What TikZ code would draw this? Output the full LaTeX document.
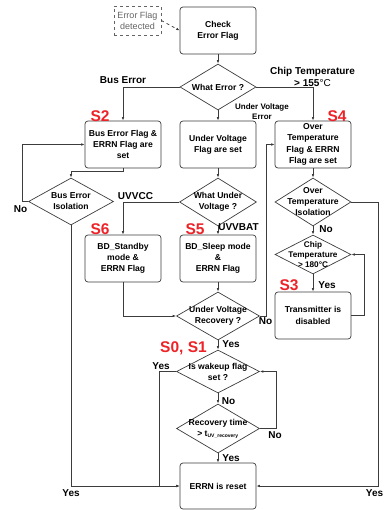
\documentclass[tikz,border=0pt]{standalone}
\usepackage{fontspec}
\setmainfont{Liberation Sans}
\usetikzlibrary{shapes.geometric,arrows.meta}
\definecolor{lc}{RGB}{60,60,60}
\definecolor{sred}{RGB}{237,35,40}
\definecolor{dgray}{RGB}{100,100,100}
\begin{document}
\begin{tikzpicture}[x=1pt,y=-1pt,
  every node/.style={inner sep=1pt},
  bx/.style={draw=lc,line width=0.7pt,rounded corners=3pt,minimum width=76pt,minimum height=47pt,align=center,font=\fontsize{8.6}{11.2}\selectfont\bfseries},
  dbx/.style={draw=dgray,line width=0.7pt,dashed,minimum width=47pt,minimum height=29pt,align=center,text=dgray,font=\fontsize{9}{11}\selectfont},
  dia/.style={diamond,draw=lc,line width=0.7pt,inner sep=0pt},
  dtx/.style={align=center,font=\fontsize{8.6}{11}\selectfont\bfseries},
  lab/.style={font=\fontsize{10}{12}\selectfont\bfseries,align=center},
  slab/.style={font=\fontsize{8}{10}\selectfont\bfseries,align=center},
  sred/.style={text=sred,font=\fontsize{15.5}{16}\selectfont\bfseries},
  arr/.style={draw=lc,line width=0.7pt,-{Latex[length=3.5pt,width=2.6pt]}},
  ln/.style={draw=lc,line width=0.7pt}]
\useasboundingbox (0,0) rectangle (385,510);

% boxes
\node[dbx] (ef) at (137.5,20.5) {Error Flag\\detected};
\node[bx] (ck) at (218,30.5) {Check\\Error Flag};
\node[dia,minimum width=76pt,minimum height=46pt,label={[dtx]center:What Error ?}] (d1) at (218,87) {};
\node[bx] (b1) at (123,144.5) {Bus Error Flag \&\\ERRN Flag are\\set};
\node[bx] (uv) at (218,144.5) {Under Voltage\\Flag are set};
\node[bx] (ot) at (313,144.5) {Over\\Temperature\\Flag \& ERRN\\Flag are set};
\node[dia,minimum width=85pt,minimum height=47pt,label={[dtx]center:Bus Error\\Isolation}] (bi) at (71,201.5) {};
\node[dia,minimum width=77pt,minimum height=48pt,label={[dtx]center:What Under\\Voltage ?}] (wuv) at (218,202) {};
\node[dia,minimum width=76pt,minimum height=48pt,label={[dtx]center:Over\\Temperature\\Isolation}] (oti) at (313,202) {};
\node[bx] (bds) at (123,258.5) {BD\_Standby\\mode \&\\ERRN Flag};
\node[bx] (bsl) at (218,258.5) {BD\_Sleep mode\\\&\\ERRN Flag};
\node[dia,minimum width=76pt,minimum height=39pt,label={[dtx,font=\fontsize{8.2}{10}\selectfont\bfseries]center:Chip\\Temperature\\> 180°C}] (ct) at (313,254.5) {};
\node[bx] (tx) at (313,315.5) {Transmitter is\\disabled};
\node[dia,minimum width=83pt,minimum height=48pt,label={[dtx]center:Under Voltage\\Recovery ?}] (uvr) at (218,316) {};
\node[dia,minimum width=83pt,minimum height=43pt,label={[dtx]center:Is wakeup flag\\set ?}] (wk) at (218,371.5) {};
\node[dia,minimum width=83pt,minimum height=49pt,label={[dtx]center:Recovery time\\> t\textsubscript{\fontsize{5}{5}\selectfont UV\_recovery}}] (rt) at (218,428.5) {};
\node[bx,minimum height=46pt] (er) at (218,486) {ERRN is reset};

% connectors
\draw[ln,dashed,-{Latex[length=3.5pt,width=2.6pt]}] (ef.east) -- (ck.west);
\draw[arr] (ck.south) -- (d1.north);
\draw[arr] (d1.west) -| (b1.north);
\draw[arr] (d1.east) -| (ot.north);
\draw[arr] (d1.south) -- (uv.north);
\draw[arr] (b1.south) -- ++(0,3) -| (bi.north);
\draw[arr] (bi.west) -- ++(-6,0) |- (b1.west);
\draw[arr] (bi.south) |- (er.west);
\draw[arr] (uv.south) -- (wuv.north);
\draw[arr] (wuv.west) -| (bds.north);
\draw[arr] (wuv.south) -- (bsl.north);
\draw[arr] (ot.south) -- (oti.north);
\draw[arr] (oti.south) -- (ct.north);
\draw[arr] (oti.east) -- ++(27,0) |- (er.east);
\draw[arr] (ct.south) -- (tx.north);
\draw[arr] (tx.east) -- ++(13,0) |- (ct.east);
\draw[arr] (bds.south) |- (uvr.west);
\draw[arr] (bsl.south) -- (uvr.north);
\draw[arr] (uvr.east) -- ++(6,0) |- (ot.west);
\draw[arr] (uvr.south) -- (wk.north);
\draw[arr] (wk.west) -- ++(-16.5,0) |- (er.west);
\draw[arr] (wk.south) -- (rt.north);
\draw[arr] (rt.east) -- ++(16,0) |- (wk.east);
\draw[arr] (rt.south) -- (er.north);

% labels
\node[lab] (lbus) at (123,80.5) {Bus Error};
\node[lab] (lchip) at (312.5,76.5) {Chip Temperature\\> 155{\mdseries°C}};
\node[slab] (luv) at (262,111.5) {Under Voltage\\Error};
\node[sred] (s2) at (100,116) {S2};
\node[sred] (s4) at (337,116) {S4};
\node[sred] (s6) at (100,229) {S6};
\node[sred] (s5) at (195,229) {S5};
\node[sred] (s3) at (289,285.5) {S3};
\node[sred] (s01) at (183.5,348) {S0, S1};
\node[lab] (lno1) at (20.5,209) {No};
\node[lab] (luvcc) at (135.5,196) {UVVCC};
\node[lab] (luvbat) at (238.5,227) {UVVBAT};
\node[lab] (lno2) at (326,229.5) {No};
\node[lab] (lyes1) at (327,285.5) {Yes};
\node[lab] (lno3) at (265.5,321) {No};
\node[lab] (lyes2) at (231,344.5) {Yes};
\node[lab] (lyes3) at (161,366) {Yes};
\node[lab] (lno4) at (228.5,401) {No};
\node[lab] (lno5) at (275,435.5) {No};
\node[lab] (lyes4) at (231,458.5) {Yes};
\node[lab] (lyes5) at (71,493.5) {Yes};
\node[lab] (lyes6) at (374.5,493.5) {Yes};
\end{tikzpicture}
\end{document}
